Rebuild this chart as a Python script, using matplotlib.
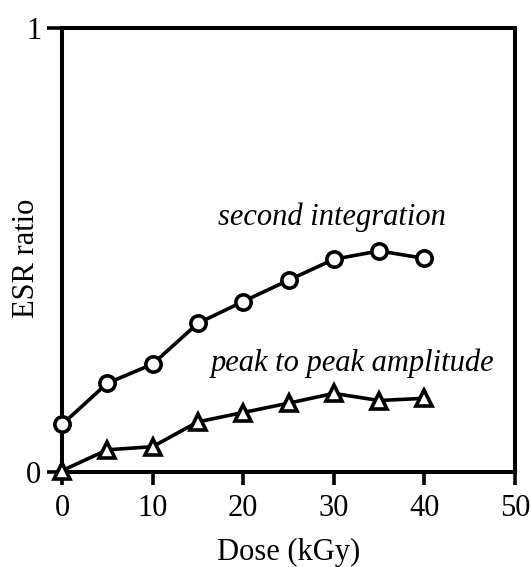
import matplotlib
matplotlib.use("Agg")
import matplotlib.pyplot as plt

# Dose levels (kGy) and ESR ratios for the two evaluation methods
dose = [0, 5, 10, 15, 20, 25, 30, 35, 40]
second_integration = [0.107, 0.200, 0.243, 0.335, 0.384, 0.432, 0.479, 0.498, 0.481]
peak_to_peak = [0.003, 0.050, 0.057, 0.113, 0.134, 0.155, 0.177, 0.161, 0.166]

x_ticks = [0, 10, 20, 30, 40, 50]
y_ticks = [0, 1]

plt.rcParams["font.family"] = ["Liberation Serif", "DejaVu Serif"]

fig = plt.figure(figsize=(5.31, 5.67), dpi=100)
ax = fig.add_axes([62 / 531, 1 - 472 / 567, (515 - 62) / 531, (472 - 28) / 567])

line_kw = dict(color="black", lw=2.6, markeredgewidth=2.6,
               markerfacecolor="white", markeredgecolor="black", clip_on=False, zorder=3)
ax.plot(dose, second_integration, marker="o", markersize=11, **line_kw)
ax.plot(dose, peak_to_peak, marker="^", markersize=12, **line_kw)

ax.set_xlim(0, 50)
ax.set_ylim(0, 1)
ax.set_xticks(x_ticks)
ax.set_yticks(y_ticks)
ax.set_yticklabels(["0", "1"])

for sp in ax.spines.values():
    sp.set_linewidth(2.9)

ax.tick_params(axis="x", direction="out", length=9.5, width=2.6, labelsize=22, pad=6)
ax.tick_params(axis="y", direction="out", length=11, width=2.6, labelsize=22, pad=4)

ax.set_xlabel("Dose (kGy)", fontsize=22, va="center")
ax.xaxis.set_label_coords(0.5, -(552 - 472) / 444)
ax.set_ylabel("ESR ratio", fontsize=22, va="center")
ax.yaxis.set_label_coords(-(62 - 26) / 453, (472 - 258) / 444)

ax.text(29.8, 0.573, "second integration", style="italic", fontsize=22, ha="center", va="center")
ax.text(32.1, 0.245, "peak to peak amplitude", style="italic", fontsize=22, ha="center", va="center")

fig.savefig("out.png", dpi=100)
